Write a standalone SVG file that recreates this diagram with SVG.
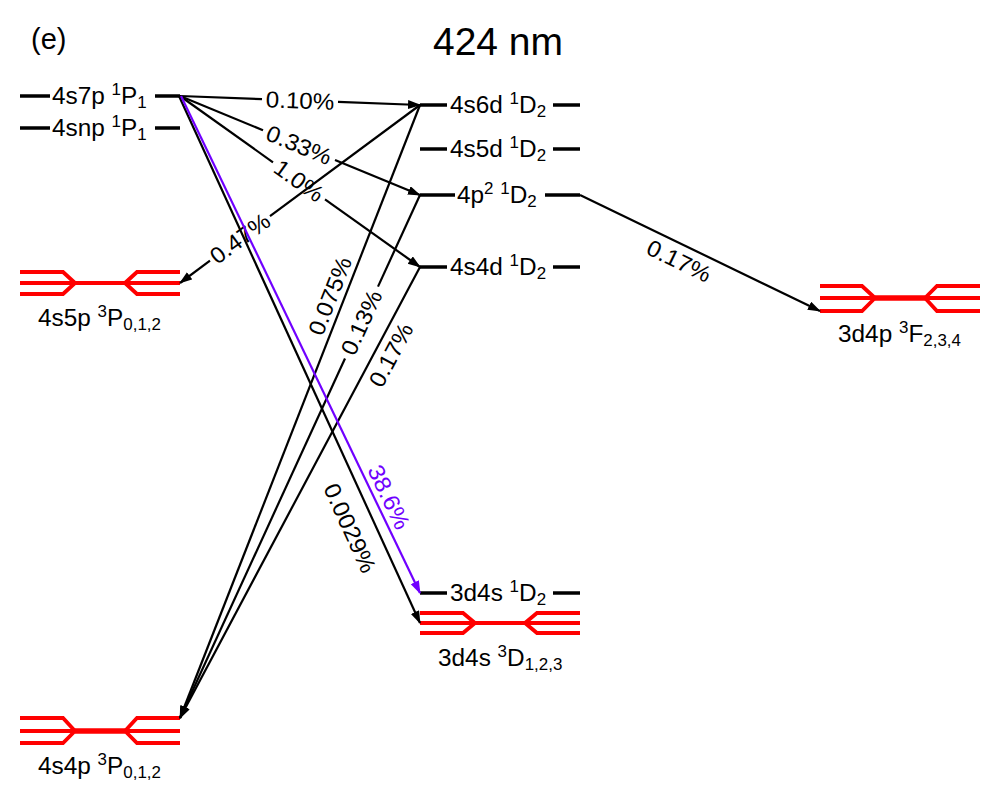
<svg xmlns="http://www.w3.org/2000/svg" width="1000" height="800" viewBox="0 0 1000 800">
<defs>
<marker id="ab" markerUnits="userSpaceOnUse" markerWidth="14" markerHeight="10" refX="12" refY="4.5" orient="auto"><path d="M0,0 L13,4.5 L0,9 z" fill="#000"/></marker>
<marker id="ap" markerUnits="userSpaceOnUse" markerWidth="14" markerHeight="10" refX="12" refY="4.5" orient="auto"><path d="M0,0 L13,4.5 L0,9 z" fill="#7000ff"/></marker>
</defs>
<style>
text{font-family:"Liberation Sans",Arial,sans-serif;fill:#000}
.lab{font-size:23px}
.s{font-size:16px}
.pct{font-size:23px;text-anchor:middle}
.lvl{stroke:#000;stroke-width:3.5;fill:none}
.red{stroke:#ff0000;stroke-width:3.8;fill:none;stroke-linejoin:miter}
.redc{stroke:#ff0000;stroke-width:5.5;fill:none}
.c{stroke:#000;stroke-width:2.2;fill:none}
.cp{stroke:#7000ff;stroke-width:2.2;fill:none}
</style>
<rect width="1000" height="800" fill="#fff"/>
<text x="31" y="49" font-size="29">(e)</text>
<text x="498" y="55" font-size="39" text-anchor="middle">424 nm</text>

<g id="n-4s7p">
<line class="lvl" x1="20" y1="96" x2="50" y2="96"/><line class="lvl" x1="155" y1="96" x2="180" y2="96"/>
<text class="lab" transform="translate(52,104) scale(1.06,1)">4s7p <tspan class="s" dy="-9">1</tspan><tspan dy="9">P</tspan><tspan class="s" dy="4">1</tspan></text>
</g>
<g id="n-4snp">
<line class="lvl" x1="20" y1="128" x2="50" y2="128"/><line class="lvl" x1="155" y1="128" x2="180" y2="128"/>
<text class="lab" transform="translate(52,136) scale(1.06,1)">4snp <tspan class="s" dy="-9">1</tspan><tspan dy="9">P</tspan><tspan class="s" dy="4">1</tspan></text>
</g>
<g id="n-4s6d">
<line class="lvl" x1="420" y1="105" x2="447" y2="105"/><line class="lvl" x1="553" y1="105" x2="580" y2="105"/>
<text class="lab" transform="translate(450,113) scale(1.06,1)">4s6d <tspan class="s" dy="-9">1</tspan><tspan dy="9">D</tspan><tspan class="s" dy="4">2</tspan></text>
</g>
<g id="n-4s5d">
<line class="lvl" x1="420" y1="149" x2="447" y2="149"/><line class="lvl" x1="553" y1="149" x2="580" y2="149"/>
<text class="lab" transform="translate(450,157) scale(1.06,1)">4s5d <tspan class="s" dy="-9">1</tspan><tspan dy="9">D</tspan><tspan class="s" dy="4">2</tspan></text>
</g>
<g id="n-4p2">
<line class="lvl" x1="420" y1="195" x2="455" y2="195"/><line class="lvl" x1="545" y1="195" x2="580" y2="195"/>
<text class="lab" transform="translate(457,203) scale(1.06,1)">4p<tspan class="s" dy="-9">2</tspan><tspan dy="9"> </tspan><tspan class="s" dy="-9">1</tspan><tspan dy="9">D</tspan><tspan class="s" dy="4">2</tspan></text>
</g>
<g id="n-4s4d">
<line class="lvl" x1="420" y1="267" x2="447" y2="267"/><line class="lvl" x1="553" y1="267" x2="580" y2="267"/>
<text class="lab" transform="translate(450,275) scale(1.06,1)">4s4d <tspan class="s" dy="-9">1</tspan><tspan dy="9">D</tspan><tspan class="s" dy="4">2</tspan></text>
</g>
<g id="n-3d4s1D2">
<line class="lvl" x1="420" y1="593" x2="447" y2="593"/><line class="lvl" x1="553" y1="593" x2="580" y2="593"/>
<text class="lab" transform="translate(450,601) scale(1.06,1)">3d4s <tspan class="s" dy="-9">1</tspan><tspan dy="9">D</tspan><tspan class="s" dy="4">2</tspan></text>
</g>
<g id="n-4s5p3P">
<path class="red" d="M20,272 H63 L75,283 M20,283 H180 M20,294 H63 L75,283 M180,272 H137 L125,283 M180,294 H137 L125,283"/>
<text class="lab" transform="translate(38,326) scale(1.06,1)">4s5p <tspan class="s" dy="-9">3</tspan><tspan dy="9">P</tspan><tspan class="s" dy="4">0,1,2</tspan></text>
</g>
<g id="n-4s4p3P">
<path class="red" d="M20,718 H63 L75,731 M20,731 H180 M20,743 H63 L75,731 M180,718 H137 L125,731 M180,743 H137 L125,731"/>
<line class="redc" x1="75" y1="731" x2="125" y2="731"/>
<text class="lab" transform="translate(38,774) scale(1.06,1)">4s4p <tspan class="s" dy="-9">3</tspan><tspan dy="9">P</tspan><tspan class="s" dy="4">0,1,2</tspan></text>
</g>
<g id="n-3d4s3D">
<path class="red" d="M420,613 H463 L475,623 M420,623 H580 M420,633 H463 L475,623 M580,613 H537 L525,623 M580,633 H537 L525,623"/>
<text class="lab" transform="translate(438,666) scale(1.06,1)">3d4s <tspan class="s" dy="-9">3</tspan><tspan dy="9">D</tspan><tspan class="s" dy="4">1,2,3</tspan></text>
</g>
<g id="n-3d4p3F">
<path class="red" d="M820,286 H862 L875,298 M820,298 H980 M820,311 H862 L875,298 M980,286 H937 L925,298 M980,311 H937 L925,298"/>
<line class="redc" x1="875" y1="298" x2="925" y2="298"/>
<text class="lab" transform="translate(838,342) scale(1.06,1)">3d4p <tspan class="s" dy="-9">3</tspan><tspan dy="9">F</tspan><tspan class="s" dy="4">2,3,4</tspan></text>
</g>

<g id="connectors">
<line class="c" x1="420" y1="105" x2="270" y2="216.2"/>
<line class="c" x1="210" y1="260.7" x2="180" y2="283" marker-end="url(#ab)"/>
<text class="pct" transform="translate(240,238.5) rotate(-36.6) scale(1.05,1)" y="8">0.47%</text>
<line class="c" x1="180" y1="96" x2="262" y2="99.1"/>
<line class="c" x1="338" y1="101.9" x2="420" y2="105" marker-end="url(#ab)"/>
<text class="pct" transform="translate(300,100.5) rotate(2.1) scale(1.05,1)" y="8">0.10%</text>
<line class="c" x1="180" y1="96" x2="263" y2="130.2"/>
<line class="c" x1="335" y1="160" x2="420" y2="195" marker-end="url(#ab)"/>
<text class="pct" transform="translate(299,145) rotate(22.4) scale(1.05,1)" y="8">0.33%</text>
<line class="c" x1="180" y1="96" x2="273" y2="162.3"/>
<line class="c" x1="325" y1="199.3" x2="420" y2="267" marker-end="url(#ab)"/>
<text class="pct" transform="translate(299,180.8) rotate(35.5) scale(1.05,1)" y="8">1.0%</text>
<line class="c" x1="420" y1="105" x2="180" y2="718" marker-end="url(#ab)"/>
<text class="pct" transform="translate(330,296) rotate(-68.6) scale(1.05,1)" y="8">0.075%</text>
<line class="c" x1="420" y1="195" x2="378" y2="286.6"/>
<line class="c" x1="345" y1="358.5" x2="180" y2="718" marker-end="url(#ab)"/>
<text class="pct" transform="translate(361.5,322.5) rotate(-65.35) scale(1.05,1)" y="8">0.13%</text>
<line class="c" x1="420" y1="267" x2="180" y2="718" marker-end="url(#ab)"/>
<text class="pct" transform="translate(391,355) rotate(-62) scale(1.05,1)" y="8">0.17%</text>
<line class="c" x1="179" y1="96" x2="420" y2="623" marker-end="url(#ab)"/>
<text class="pct" transform="translate(350,528) rotate(65.5) scale(1.05,1)" y="8">0.0029%</text>
<line class="cp" x1="181" y1="96" x2="420" y2="593" marker-end="url(#ap)"/>
<text class="pct" transform="translate(389,497) rotate(64.2) scale(1.05,1)" y="8" style="fill:#7000ff">38.6%</text>
<line class="c" x1="580" y1="195" x2="820" y2="311" marker-end="url(#ab)"/>
<text class="pct" transform="translate(679,261) rotate(25.8) scale(1.05,1)" y="8">0.17%</text>
</g>
</svg>
